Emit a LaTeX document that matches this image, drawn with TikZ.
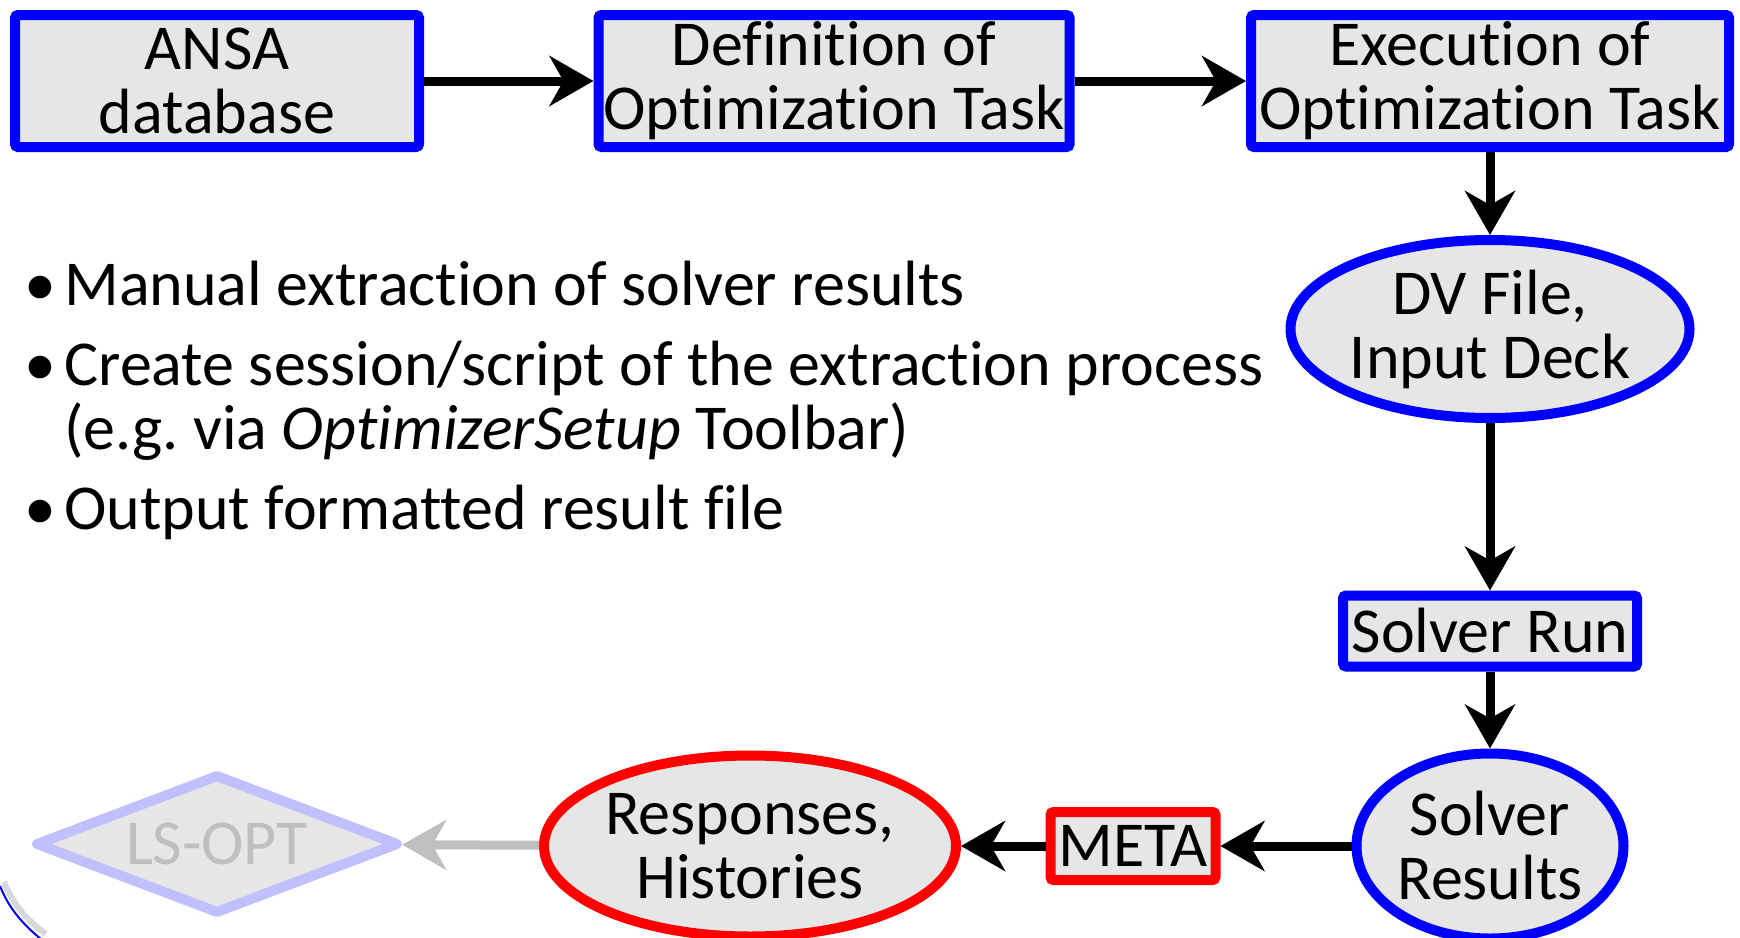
\documentclass[tikz,border=0pt]{standalone}
\usepackage{fontspec}
\setmainfont{Carlito}[Ligatures=NoCommon]
\usetikzlibrary{shapes.geometric,arrows.meta}

\definecolor{boxgray}{RGB}{230,230,230}
\definecolor{paleblue}{RGB}{192,192,255}
\definecolor{fadegray}{RGB}{191,191,191}

\newcommand{\bigtext}{\fontsize{32}{32}\selectfont\frenchspacing}
\newcommand{\bul}{\makebox[20pt][l]{•}}

\tikzstyle{box}=[rectangle,draw=blue,line width=5pt,fill=boxgray,rounded corners=1.5pt,inner sep=0pt,align=center,font=\bigtext]
\tikzstyle{oval}=[ellipse,draw=blue,line width=5pt,fill=boxgray,inner sep=0pt,align=center,font=\bigtext]
\tikzstyle{flow}=[line width=4.5pt,-{Stealth[length=22pt,width=25pt,inset=7pt]}]
\tikzstyle{item}=[anchor=base west,inner sep=0pt,font=\bigtext]

\begin{document}
\begin{tikzpicture}[x=0.5pt,y=-0.5pt]
    \useasboundingbox (0,0) rectangle (1740,937);
    % top row
    \node[box,minimum width=202pt,minimum height=66pt] (ansa) at (217,81) {ANSA\\database};
    \node[box,minimum width=235.5pt,minimum height=66pt] (defn) at (834,81) {Definition of\\Optimization Task};
    \node[box,minimum width=239pt,minimum height=66pt] (exec) at (1490,81) {Execution of\\Optimization Task};
    % right column
    \node[oval,minimum width=199.5pt,minimum height=89pt] (dv) at (1490,329) {DV File,\\Input Deck};
    \node[box,minimum width=147pt,minimum height=35.5pt] (run) at (1490,631) {Solver Run};
    \node[oval,minimum width=133.5pt,minimum height=92.5pt] (results) at (1490,846) {Solver\\Results};
    % bottom row
    \node[box,draw=red,minimum width=82.5pt,minimum height=34pt] (meta) at (1133,846) {META};
    \node[oval,draw=red,minimum width=206pt,minimum height=90.5pt] (resp) at (750,846) {Responses,\\Histories};
    \node[diamond,aspect=2.5,draw=paleblue,line width=5pt,line join=round,fill=boxgray,inner sep=0pt,
          minimum width=182pt,minimum height=70pt,text=fadegray,font=\bigtext] (lsopt) at (217,844) {LS-OPT};
    % bullet list
    \node[item] (item1) at (24,305) {\bul Manual extraction of solver results};
    \node[item] (item2) at (24,385) {\bul Create session/script of the extraction process};
    \node[item] (item2b) at (64,449) {(e.g. via \textit{OptimizerSetup} Toolbar)};
    \node[item] (item3) at (24,529) {\bul Output formatted result file};
    % connectors
    \draw[flow] (ansa) -- (defn);
    \draw[flow] (defn) -- (exec);
    \draw[flow] (exec) -- (dv);
    \draw[flow] (dv) -- (run);
    \draw[flow] (run) -- (results);
    \draw[flow] (results) -- (meta);
    \draw[flow] (meta) -- (resp);
    \draw[flow,draw=fadegray,fill=fadegray] (resp) -- (lsopt);
    % edge of the slide frame
    \draw[gray!30,line width=3pt] (4,882) .. controls (12,902) and (24,918) .. (46,934);
    \draw[blue,line width=1pt] (0,886) .. controls (8,906) and (20,922) .. (42,940);
\end{tikzpicture}
\end{document}
